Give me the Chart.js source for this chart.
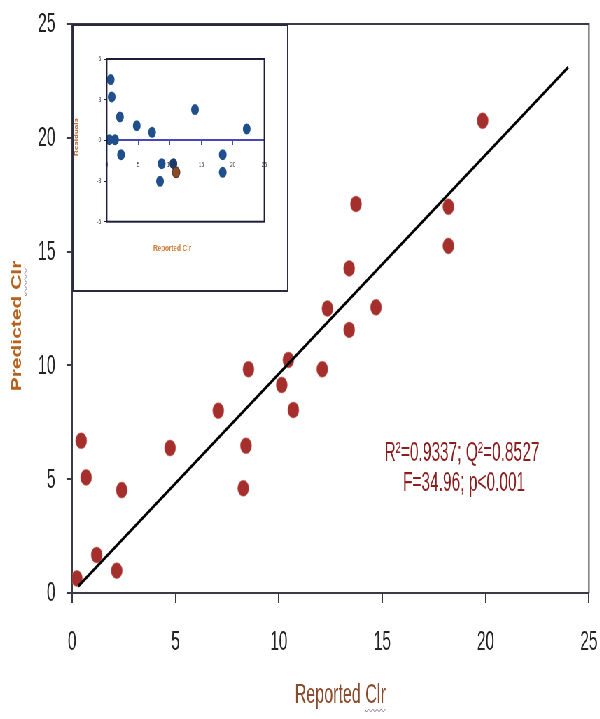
<!DOCTYPE html>
<html>
<head>
<meta charset="utf-8">
<script src="https://cdn.jsdelivr.net/npm/chart.js@4.4.1/dist/chart.umd.min.js"></script>
<style>
html, body { margin: 0; padding: 0; background: #fff; overflow: hidden; }
/* the source picture is squeezed sideways, so draw wide and squeeze */
#wrap { position: relative; width: 857px; height: 719px; transform: scaleX(0.7); transform-origin: 0 0; }
#main { position: absolute; left: 0; top: 0; }
#inset { position: absolute; left: 103px; top: 24px; }
</style>
</head>
<body>
<div id="wrap">
    <canvas id="main" width="857" height="719"></canvas>
    <canvas id="inset" width="309" height="268"></canvas>
</div>
<script>
// main plot: reported vs predicted Clr
const reportedClr = [0.23, 0.44, 0.68, 1.19, 2.16, 2.4, 4.74, 7.07, 8.28, 8.41, 8.53, 10.14, 10.46, 10.7, 12.1, 12.35, 13.4, 13.4, 13.73, 14.7, 18.2, 18.2, 19.86];
const predictedClr = [0.64, 6.69, 5.08, 1.67, 0.98, 4.52, 6.37, 8.01, 4.6, 6.47, 9.83, 9.14, 10.24, 8.04, 9.83, 12.5, 11.56, 14.26, 17.09, 12.55, 16.97, 15.25, 20.75];
const fitX = [0.3, 24.0];
const fitY = [0.3, 23.1];
const mainTicks = [0, 5, 10, 15, 20, 25];
const statsText = ["R\u00b2=0.9337; Q\u00b2=0.8527", "F=34.96; p<0.001"];

// inset: residuals
const residX = [0.63, 0.79, 2.1, 4.76, 7.19, 0.41, 1.32, 2.27, 8.72, 8.45, 14.0, 18.4, 18.4, 22.2];
const residY = [4.48, 3.2, 1.73, 1.08, 0.59, 0.05, 0.05, -1.06, -1.72, -3.02, 2.27, -1.06, -2.36, 0.84];
const residDarkX = [10.57];
const residDarkY = [-1.72];
const residBrownX = [11.0];
const residBrownY = [-2.36];
const residXTicks = [0, 5, 10, 15, 20, 25];
const residYTicks = [-6, -3, 0, 3, 6];

function toPoints(xs, ys) {
    return xs.map(function (x, i) { return { x: x, y: ys[i] }; });
}

function setTicks(list) {
    return function (scale) {
        scale.ticks = list.map(function (v) { return { value: v }; });
    };
}

var FONT = "'Liberation Sans', Arial, sans-serif";
var axisColor = "#3b3b48";

// arial-narrow look: draw text squeezed a bit more
function narrowText(ctx, text, x, y, align) {
    ctx.save();
    ctx.translate(x, y);
    ctx.scale(0.82, 1);
    ctx.textAlign = align;
    ctx.fillText(text, 0, 0);
    ctx.restore();
}

function squiggle(ctx, x, y, w) {
    ctx.beginPath();
    ctx.moveTo(x, y);
    for (var i = 0; i < w; i += 3) {
        ctx.lineTo(x + i + 1.5, y + (i % 6 === 0 ? 2 : -1));
    }
    ctx.stroke();
}

var mainDecor = {
    id: "mainDecor",
    afterDraw: function (chart) {
        var ctx = chart.ctx;
        var a = chart.chartArea;
        var xs = chart.scales.x, ys = chart.scales.y;
        ctx.save();
        // box top + right
        ctx.strokeStyle = axisColor;
        ctx.lineWidth = 2;
        ctx.beginPath();
        ctx.moveTo(a.left, a.top);
        ctx.lineTo(a.right, a.top);
        ctx.lineTo(a.right, a.bottom);
        ctx.stroke();

        // tick labels
        ctx.fillStyle = "#222";
        ctx.font = "27px " + FONT;
        ctx.textBaseline = "middle";
        mainTicks.forEach(function (v) {
            narrowText(ctx, String(v), xs.getPixelForValue(v), 643, "center");
            narrowText(ctx, String(v), 79, ys.getPixelForValue(v) + 1, "right");
        });

        // stats text
        ctx.fillStyle = "#8b1d1d";
        ctx.font = "27px " + FONT;
        narrowText(ctx, statsText[0], 660, 454, "center");
        narrowText(ctx, statsText[1], 663, 484, "center");

        // x title
        ctx.fillStyle = "#8a4a2c";
        ctx.font = "28px " + FONT;
        narrowText(ctx, "Reported Clr", 486, 695, "center");
        ctx.strokeStyle = "#8a6a9a";
        ctx.lineWidth = 1;
        squiggle(ctx, 522, 710, 30);

        // y title
        ctx.translate(24, 326);
        ctx.rotate(-Math.PI / 2);
        ctx.fillStyle = "#b5621f";
        ctx.font = "bold 21px " + FONT;
        ctx.textAlign = "center";
        ctx.fillText("Predicted Clr", 0, 0);
        ctx.strokeStyle = "#8a6a9a";
        squiggle(ctx, 30, 12, 30);
        ctx.restore();
    }
};

var mainChart = new Chart(document.getElementById("main").getContext("2d"), {
    type: "scatter",
    data: {
        datasets: [
            {
                type: "line",
                data: toPoints(fitX, fitY),
                borderColor: "#000000",
                borderWidth: 3,
                pointRadius: 0,
                fill: false,
            },
            {
                data: toPoints(reportedClr, predictedClr),
                backgroundColor: "#a52f2c",
                borderColor: "rgba(200, 110, 100, 0.6)",
                borderWidth: 1,
                pointRadius: 8,
            },
        ],
    },
    plugins: [mainDecor],
    options: {
        responsive: false,
        animation: false,
        devicePixelRatio: 1,
        layout: { padding: { top: 24, right: 15.6, left: 0, bottom: 0 } },
        plugins: { legend: { display: false }, tooltip: { enabled: false } },
        scales: {
            x: {
                type: "linear",
                min: 0,
                max: 25,
                afterBuildTicks: setTicks(mainTicks),
                afterFit: function (scale) {
                    scale.height = 126;
                    scale.paddingLeft = 0;
                    scale.paddingRight = 0;
                },
                border: { display: true, color: axisColor, width: 2 },
                grid: { display: true, drawOnChartArea: false, drawTicks: true, tickLength: 10, color: axisColor, lineWidth: 2 },
                ticks: { display: false },
            },
            y: {
                type: "linear",
                min: 0,
                max: 25,
                afterBuildTicks: setTicks(mainTicks),
                afterFit: function (scale) {
                    scale.width = 102.9;
                    scale.paddingTop = 0;
                    scale.paddingBottom = 0;
                },
                border: { display: true, color: axisColor, width: 2 },
                grid: { display: true, drawOnChartArea: false, drawTicks: true, tickLength: 8, color: axisColor, lineWidth: 2 },
                ticks: { display: false },
            },
        },
    },
});

var insetDecor = {
    id: "insetDecor",
    beforeDraw: function (chart) {
        var ctx = chart.ctx;
        ctx.save();
        ctx.fillStyle = "#ffffff";
        ctx.fillRect(0, 0, chart.width, chart.height);
        ctx.restore();
    },
    afterDraw: function (chart) {
        var ctx = chart.ctx;
        var a = chart.chartArea;
        ctx.save();
        ctx.strokeStyle = "#2a2a40";
        ctx.lineWidth = 2;
        ctx.strokeRect(1, 1, chart.width - 2, chart.height - 2);
        ctx.strokeStyle = "#1e1e3c";
        ctx.strokeRect(a.left, a.top, a.right - a.left, a.bottom - a.top);

        ctx.textAlign = "center";
        ctx.textBaseline = "middle";
        ctx.font = "bold 9px " + FONT;
        ctx.fillStyle = "#d0803c";
        ctx.fillText("Reported Clr", 143, 225);

        ctx.translate(6, 113);
        ctx.rotate(-Math.PI / 2);
        ctx.font = "bold 8px " + FONT;
        ctx.fillStyle = "#b0602a";
        ctx.fillText("Residuals", 0, 0);
        ctx.restore();
    }
};

var insetChart = new Chart(document.getElementById("inset").getContext("2d"), {
    type: "scatter",
    data: {
        datasets: [
            {
                data: toPoints(residBrownX, residBrownY),
                backgroundColor: "#8a4a22",
                borderColor: "#3a2a30",
                borderWidth: 1,
                pointRadius: 5.5,
            },
            {
                data: toPoints(residDarkX, residDarkY),
                backgroundColor: "#1c3a6a",
                borderWidth: 0,
                pointRadius: 5.5,
            },
            {
                data: toPoints(residX, residY),
                backgroundColor: "#20508c",
                borderWidth: 0,
                pointRadius: 5.5,
            },
        ],
    },
    plugins: [insetDecor],
    options: {
        responsive: false,
        animation: false,
        devicePixelRatio: 1,
        layout: { padding: { top: 35, right: 34.4, left: 0, bottom: 70.3 } },
        plugins: { legend: { display: false }, tooltip: { enabled: false } },
        scales: {
            x: {
                type: "linear",
                position: { y: 0 },
                min: 0,
                max: 25,
                afterBuildTicks: setTicks(residXTicks),
                afterFit: function (scale) {
                    scale.paddingLeft = 0;
                    scale.paddingRight = 0;
                },
                border: { display: true, color: "#4848b8", width: 2 },
                grid: { display: true, drawOnChartArea: false, drawTicks: true, tickLength: 4, color: "#4848b8", lineWidth: 1 },
                ticks: { color: "#333", font: { family: FONT, size: 7 }, padding: 17, maxRotation: 0 },
            },
            y: {
                type: "linear",
                min: -6,
                max: 6,
                afterBuildTicks: setTicks(residYTicks),
                afterFit: function (scale) { scale.width = 49.4; },
                border: { display: true, color: "#1e1e3c", width: 2 },
                grid: { display: true, drawOnChartArea: false, drawTicks: true, tickLength: 4, color: "#1e1e3c", lineWidth: 1 },
                ticks: { color: "#333", font: { family: FONT, size: 7 }, padding: 4 },
            },
        },
    },
});
</script>
</body>
</html>
